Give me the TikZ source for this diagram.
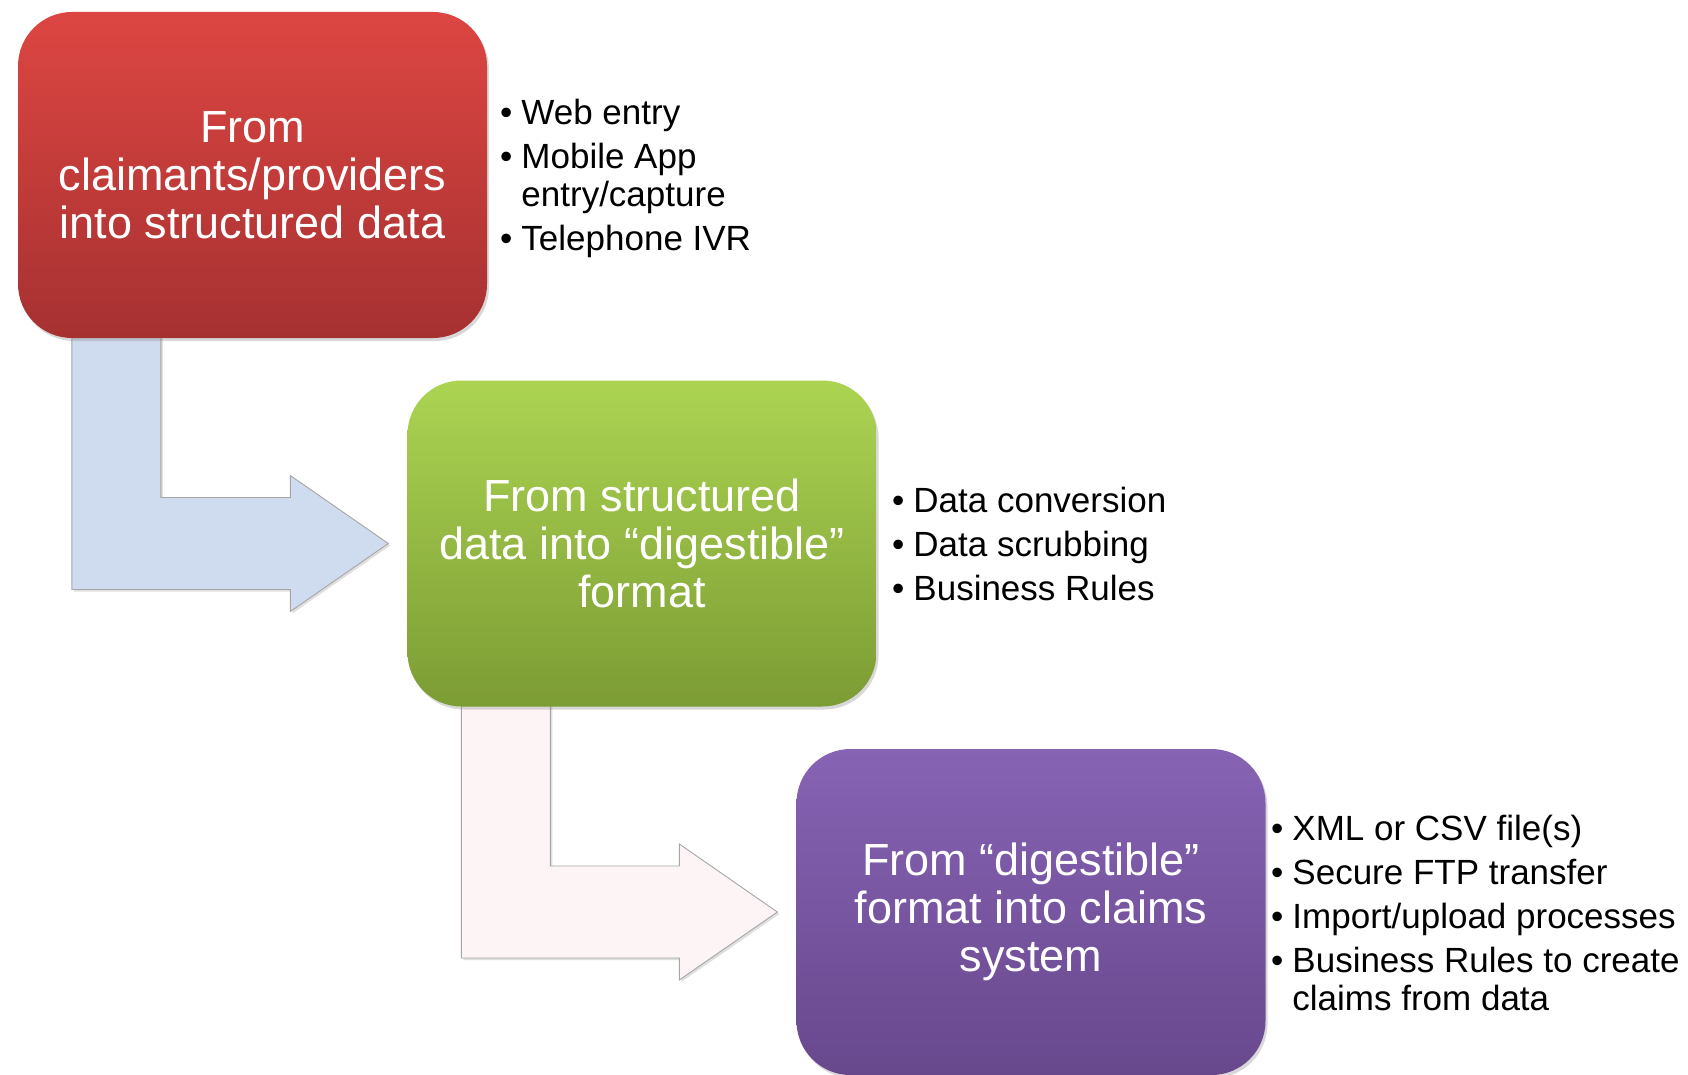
\documentclass[tikz,border=0pt]{standalone}
\usepackage{fontspec}
\setmainfont{Liberation Sans}
\usepackage{tikz}
\usetikzlibrary{calc,shadows,backgrounds}
\definecolor{redTop}{RGB}{221,70,66}
\definecolor{redBot}{RGB}{166,49,49}
\definecolor{greenTop}{RGB}{172,212,82}
\definecolor{greenBot}{RGB}{124,156,52}
\definecolor{purpleTop}{RGB}{135,99,180}
\definecolor{purpleBot}{RGB}{104,72,141}
\definecolor{bendBlue}{RGB}{207,219,238}
\definecolor{bendPink}{RGB}{253,245,245}
\newcommand*{\stemIn}{54pt}
\newcommand*{\stemOut}{143pt}

\begin{document}
\begin{tikzpicture}[x=1pt,y=-1pt,
	stage/.style={rectangle,rounded corners=54pt,minimum width=469pt,minimum height=326pt,
		text=white,align=center,font=\fontsize{45}{48}\selectfont,
		drop shadow={opacity=0.3,shadow xshift=2pt,shadow yshift=-3pt}},
	notes/.style={anchor=west,inner sep=0pt,font=\fontsize{35}{38}\selectfont},
	bentarrow/.style={draw=gray!70,line width=0.9pt,
		drop shadow={opacity=0.25,shadow xshift=2pt,shadow yshift=-2pt}}]
	\useasboundingbox (0,0) rectangle (1688,1075);

	\node[stage,top color=redTop,bottom color=redBot] (claimants) at (252.5,175) {From\\claimants/providers\\into structured data};
	\node[stage,top color=greenTop,bottom color=greenBot] (structured) at (642,543.5) {From structured\\data into “digestible”\\format};
	\node[stage,top color=purpleTop,bottom color=purpleBot] (digestible) at (1031,912) {From “digestible”\\format into claims\\system};

	\node[notes] (claimantsNotes) at (500,180) {\begin{tabular}{@{}l@{\hspace{9pt}}l@{}}
		\textbullet & Web entry\\[6pt]
		\textbullet & Mobile App\\
		 & entry/capture\\[6pt]
		\textbullet & Telephone IVR
	\end{tabular}};
	\node[notes] (structuredNotes) at (892,549) {\begin{tabular}{@{}l@{\hspace{9pt}}l@{}}
		\textbullet & Data conversion\\[6pt]
		\textbullet & Data scrubbing\\[6pt]
		\textbullet & Business Rules
	\end{tabular}};
	\node[notes] (digestibleNotes) at (1271,918) {\begin{tabular}{@{}l@{\hspace{9pt}}l@{}}
		\textbullet & XML or CSV file(s)\\[6pt]
		\textbullet & Secure FTP transfer\\[6pt]
		\textbullet & Import/upload processes\\[6pt]
		\textbullet & Business Rules to create\\
		 & claims from data
	\end{tabular}};

	\begin{scope}[on background layer]
		\fill[white] (0,0) rectangle (1688,1075);
		% bent arrows, stem tucked under the upper box
		\path[bentarrow,fill=bendBlue] let \p1=(claimants.south west), \p2=(structured.west) in
			(\x1+\stemIn,\y1+10pt) -- (\x1+\stemOut,\y1+10pt) -- (\x1+\stemOut,\y2+46pt)
			-- (\x2-117pt,\y2+46pt) -- (\x2-117pt,\y2+68pt) -- (\x2-19pt,\y2)
			-- (\x2-117pt,\y2-68pt) -- (\x2-117pt,\y2-46pt) -- (\x1+\stemIn,\y2-46pt) -- cycle;
		\path[bentarrow,fill=bendPink] let \p1=(structured.south west), \p2=(digestible.west) in
			(\x1+\stemIn,\y1+10pt) -- (\x1+\stemOut,\y1+10pt) -- (\x1+\stemOut,\y2+46pt)
			-- (\x2-117pt,\y2+46pt) -- (\x2-117pt,\y2+68pt) -- (\x2-19pt,\y2)
			-- (\x2-117pt,\y2-68pt) -- (\x2-117pt,\y2-46pt) -- (\x1+\stemIn,\y2-46pt) -- cycle;
	\end{scope}
\end{tikzpicture}
\end{document}
